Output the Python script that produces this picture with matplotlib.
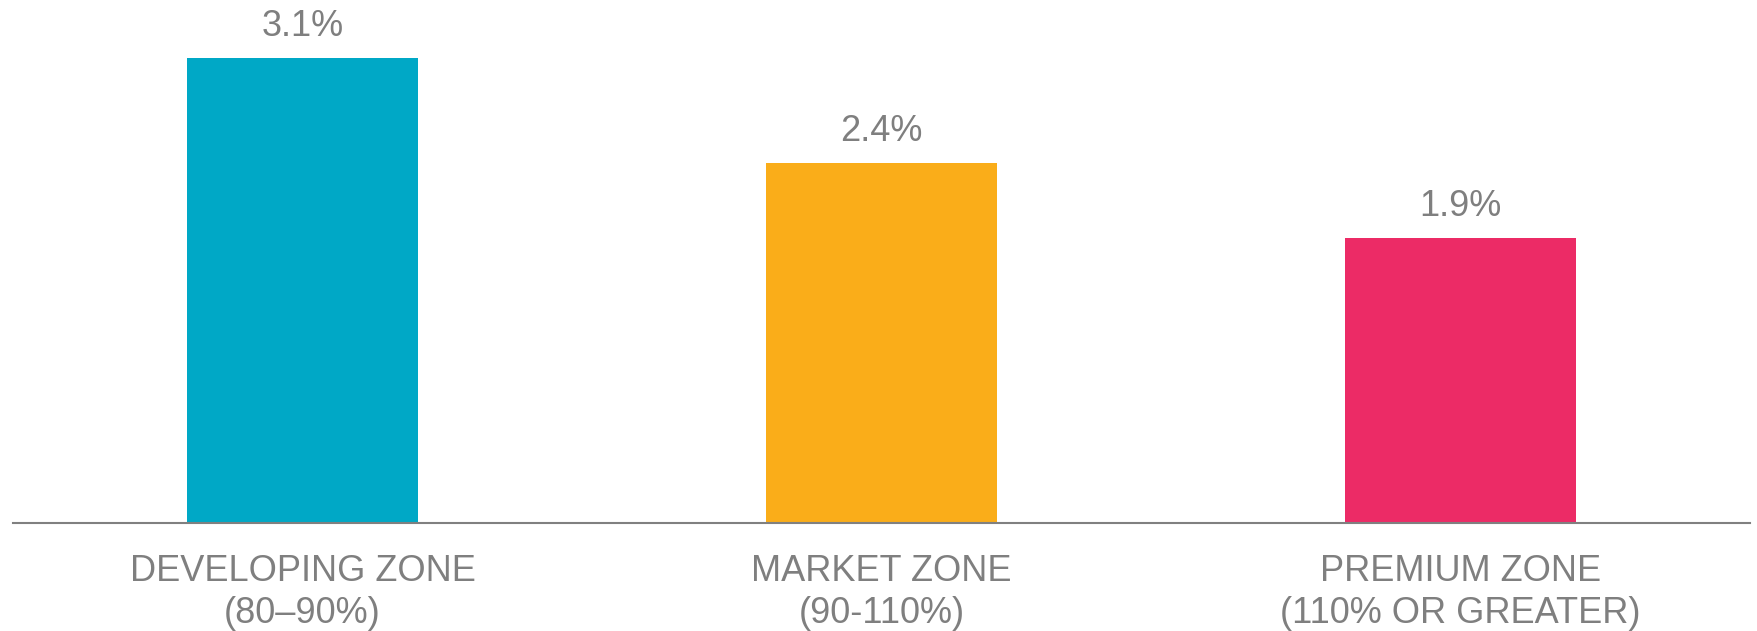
import matplotlib
matplotlib.use("Agg")
import matplotlib.pyplot as plt

categories = ["DEVELOPING ZONE\n(80–90%)", "MARKET ZONE\n(90-110%)", "PREMIUM ZONE\n(110% OR GREATER)"]
values = [3.1, 2.4, 1.9]
value_labels = ["3.1%", "2.4%", "1.9%"]
colors = ["#00A8C6", "#FAAD19", "#EC2B66"]

plt.rcParams['font.family'] = ['Liberation Sans', 'DejaVu Sans']
text_color = "#7F7F7F"

fig = plt.figure(figsize=(17.57, 6.31), dpi=100)
ax = fig.add_axes([13/1757, 108/631, (1750-13)/1757, 523/631])

x = list(range(len(values)))
ax.bar(x, values, width=0.4, color=colors)
ax.set_xlim(-0.5, 2.5)
ax.set_ylim(0, 523/150)

for xi, v, lab in zip(x, values, value_labels):
    ax.annotate(lab, (xi, v), xytext=(0, 15.8), textcoords="offset points",
                ha="center", va="baseline", fontsize=26, color=text_color)

ax.set_xticks(x)
ax.set_xticklabels(categories, fontsize=26, color=text_color, linespacing=1.25)
ax.tick_params(axis="x", length=0, pad=22.5)
ax.set_yticks([])
for s in ["top", "left", "right"]:
    ax.spines[s].set_visible(False)
ax.spines["bottom"].set_color("#808080")
ax.spines["bottom"].set_linewidth(1.5)

fig.savefig("out.png", dpi=100)
